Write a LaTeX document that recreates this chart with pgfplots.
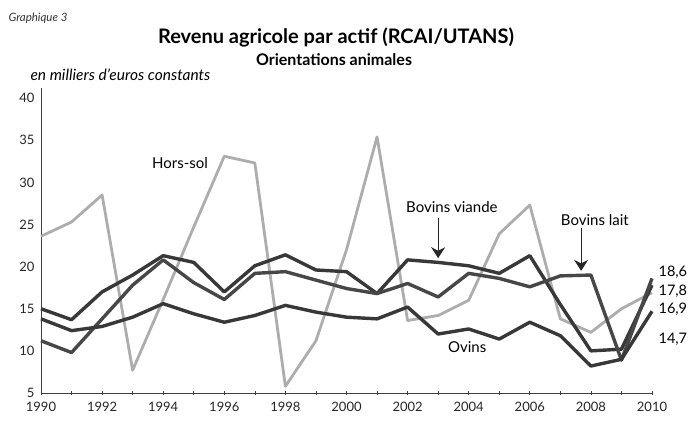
\documentclass[border=0pt]{standalone}
\usepackage{fontspec}
\setmainfont{Lato}
\usepackage{pgfplots}
\usepackage{pgfplotstable}
\pgfplotsset{compat=1.18}
\usetikzlibrary{arrows.meta}

\pgfplotstableread{
year hs bv bl ov
1990 23.6 15.0 11.2 13.8
1991 25.3 13.7 9.8 12.4
1992 28.5 17.0 13.8 12.9
1993 7.7 19.0 17.8 14.0
1994 16.1 21.3 20.8 15.6
1995 24.7 20.5 18.1 14.4
1996 33.1 17.0 16.1 13.4
1997 32.3 20.1 19.2 14.2
1998 5.8 21.4 19.4 15.4
1999 11.2 19.6 18.4 14.6
2000 22.0 19.4 17.4 14.0
2001 35.4 16.8 16.8 13.8
2002 13.6 20.8 18.0 15.2
2003 14.2 20.5 16.4 12.0
2004 16.0 20.1 19.2 12.6
2005 23.9 19.2 18.6 11.4
2006 27.3 21.3 17.6 13.4
2007 13.8 15.5 18.9 11.8
2008 12.2 10.0 19.0 8.2
2009 15.0 10.2 8.9 9.0
2010 16.9 17.8 18.6 14.7
}\data

\begin{document}
\begin{tikzpicture}
\useasboundingbox (0,0) rectangle (691pt,424pt);
\node[anchor=west,font=\fontsize{11.5}{12}\selectfont\itshape,text=black!80] at (5pt,406pt) {Graphique 3};
\node[font=\fontsize{20}{22}\selectfont\bfseries] at (336pt,387pt) {Revenu agricole par actif (RCAI/UTANS)};
\node[font=\fontsize{16}{18}\selectfont\bfseries] at (334pt,364pt) {Orientations animales};
\node[anchor=west,font=\fontsize{15.5}{17}\selectfont\itshape] at (27pt,349pt) {en milliers d'euros constants};
\begin{axis}[
  at={(41pt,31pt)}, anchor=south west,
  width=611pt, height=305pt, scale only axis,
  xmin=1990, xmax=2010, ymin=5, ymax=41.2,
  axis lines*=left,
  axis line style={black!75, line width=0.9pt},
  xtick={1990,1992,...,2010},
  minor xtick={1991,1993,...,2009},
  ytick={5,10,...,40},
  ytick style={draw=none},
  xtick style={black!75, line width=0.7pt},
  tick align=center,
  major tick length=4pt, minor tick length=4pt,
  xticklabel style={/pgf/number format/1000 sep={}, font=\fontsize{13}{14}\selectfont, text=black!85, yshift=-4pt},
  yticklabel style={font=\fontsize{13}{14}\selectfont, text=black!85, xshift=-1pt},
  /pgf/number format/assume math mode=true,
  clip=false,
]
\addplot[black!32, line width=2.8pt, line join=round] table[x=year,y=hs]{\data};
\addplot[black!78, line width=3.4pt, line join=round] table[x=year,y=bv]{\data};
\addplot[black!72, line width=3.4pt, line join=round] table[x=year,y=bl]{\data};
\addplot[black!78, line width=3.4pt, line join=round] table[x=year,y=ov]{\data};
\node[font=\fontsize{15}{16}\selectfont] at (axis cs:1994.55,32.3) {Hors-sol};
\node[font=\fontsize{15}{16}\selectfont] at (axis cs:2003.45,27.1) {Bovins viande};
\node[font=\fontsize{15}{16}\selectfont] at (axis cs:2008.13,25.5) {Bovins lait};
\node[font=\fontsize{15}{16}\selectfont] at (axis cs:2003.95,10.4) {Ovins};
\draw[black!85, line width=1pt, -{Stealth[length=11pt,width=14pt]}] (axis cs:2003.0,25.8) -- (axis cs:2003.0,21.0);
\draw[black!85, line width=1pt, -{Stealth[length=11pt,width=14pt]}] (axis cs:2007.68,24.6) -- (axis cs:2007.68,19.5);
\node[anchor=west,font=\fontsize{14.5}{16}\selectfont] at (axis cs:2010.1,19.3) {18,6};
\node[anchor=west,font=\fontsize{14.5}{16}\selectfont] at (axis cs:2010.1,17.1) {17,8};
\node[anchor=west,font=\fontsize{14.5}{16}\selectfont] at (axis cs:2010.1,15.0) {16,9};
\node[anchor=west,font=\fontsize{14.5}{16}\selectfont] at (axis cs:2010.1,11.4) {14,7};
\end{axis}
\end{tikzpicture}
\end{document}
